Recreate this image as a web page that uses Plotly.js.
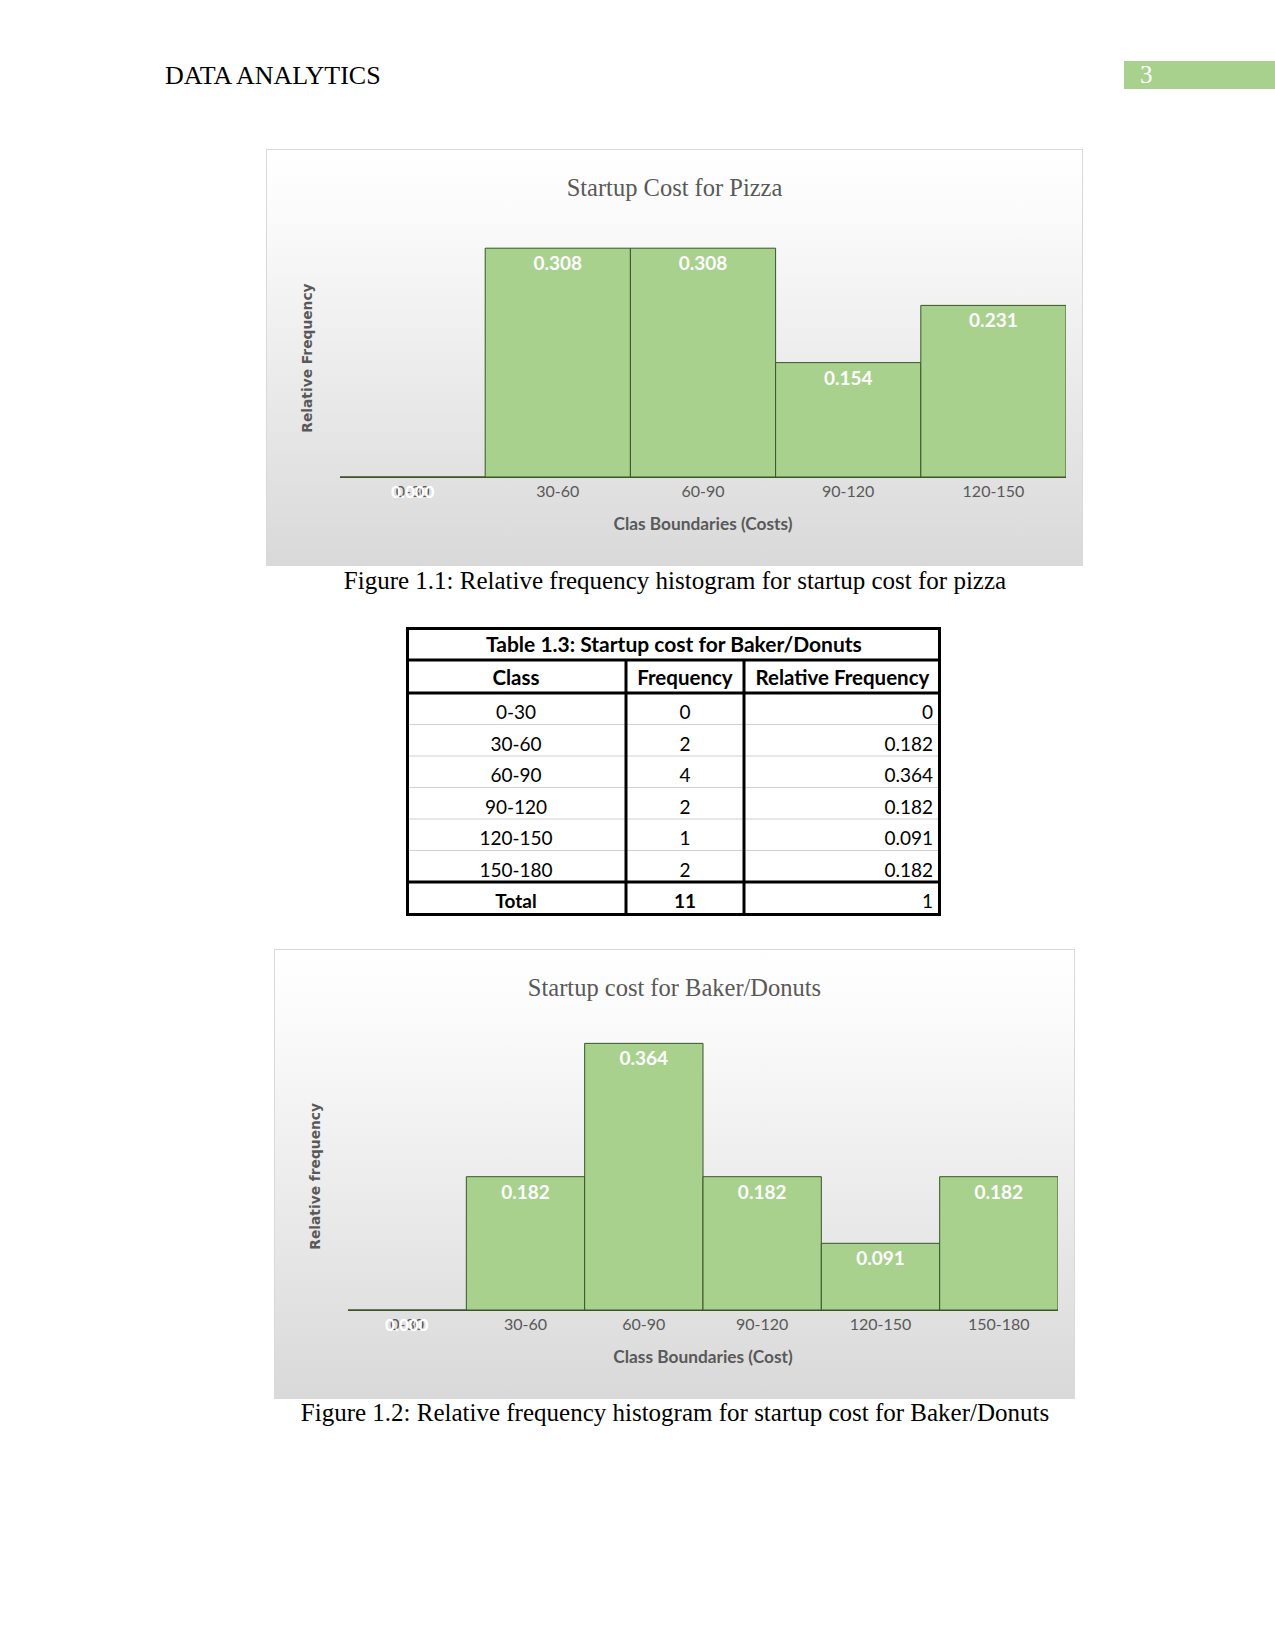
<!DOCTYPE html>
<html>
<head>
<meta charset="utf-8">
<script src="https://cdn.plot.ly/plotly-3.0.1.min.js"></script>
<style>
  html, body { margin: 0; padding: 0; background: #ffffff; }
  #page { position: relative; width: 1275px; height: 1651px; overflow: hidden; background: #fff; }
  .serif { font-family: "Liberation Serif", "DejaVu Serif", serif; position: absolute; white-space: nowrap; }
  #hdr { left: 165px; top: 61px; font-size: 26px; color: #000; }
  #pgbox { position: absolute; left: 1124px; top: 61px; width: 151px; height: 28px; background: #a9d18e; }
  #pgnum { position: absolute; left: 16px; top: 0px; font-family: "Liberation Serif", serif; font-size: 25px; color: #fff; line-height: 28px; }
  .chartbox { position: absolute; background: linear-gradient(to bottom, #ffffff 0%, #fbfbfb 15%, #d9d9d9 100%); outline: 1px solid #d9d9d9; }
  #c1 { left: 267px; top: 150px; width: 815px; height: 415px; }
  #c2 { left: 275px; top: 950px; width: 799px; height: 448px; }
  #tbl { position: absolute; left: 406px; top: 627px; width: 535px; height: 289px; }
  .cap { font-size: 25px; color: #000; width: 1100px; left: 125px; text-align: center; }
  #cap1 { top: 567px; }
  #cap2 { top: 1399px; }
</style>
</head>
<body>
<div id="page">
  <div id="hdr" class="serif">DATA ANALYTICS</div>
  <div id="pgbox"><div id="pgnum">3</div></div>
  <div id="c1" class="chartbox"></div>
  <div id="cap1" class="serif cap">Figure 1.1: Relative frequency histogram for startup cost for pizza</div>
  <div id="tbl"></div>
  <div id="c2" class="chartbox"></div>
  <div id="cap2" class="serif cap">Figure 1.2: Relative frequency histogram for startup cost for Baker/Donuts</div>
</div>
<script>
// ---- Data ----
const pizzaClasses = ['0-30', '30-60', '60-90', '90-120', '120-150'];
const pizzaRelFreq = [0, 0.308, 0.308, 0.154, 0.231];

const bakerClasses = ['0-30', '30-60', '60-90', '90-120', '120-150', '150-180'];
const bakerFreq = [0, 2, 4, 2, 1, 2];
const bakerRelFreq = [0, 0.182, 0.364, 0.182, 0.091, 0.182];
const bakerTotalFreq = 11;
const bakerTotalRel = 1;

const tableTitle = 'Table 1.3: Startup cost for Baker/Donuts';
const tableHeaders = ['Class', 'Frequency', 'Relative Frequency'];

// ---- Styles ----
const GREEN = '#a9d18e';
const OUTLINE = '#3b5528';
const GRAY = '#595959';
const SANS = 'Lato, "Open Sans", sans-serif';

function histogram(divId, classes, values, title, xTitle, yTitle, yMax, W, H) {
  const M = { l: 73, r: 16, t: 67, b: 88 };
  const anns = [];
  classes.forEach((c, i) => {
    if (values[i] === 0) {
      anns.push({
        x: c, y: 0, xref: 'x', yref: 'y', yanchor: 'middle', yshift: -14,
        text: '<b>' + values[i].toFixed(3) + '</b>', showarrow: false,
        font: { family: SANS, size: 17, color: '#ffffff' }
      });
    }
  });
  anns.push({
    xref: 'paper', yref: 'paper', x: 0, y: 0.455, xanchor: 'center', yanchor: 'middle',
    xshift: -(M.l - 40), textangle: -90, showarrow: false,
    text: '<b>' + yTitle + '</b>',
    font: { family: '"DejaVu Sans", Verdana, sans-serif', size: 13.8, color: GRAY }
  });
  const trace = {
    type: 'bar', x: classes, y: values,
    marker: { color: GREEN, line: { color: OUTLINE, width: 1 } },
    text: values.map(v => v.toFixed(3)),
    texttemplate: '<b>%{text}</b>',
    textposition: 'inside', insidetextanchor: 'end',
    textfont: { family: SANS, size: 19, color: '#ffffff' },
    constraintext: 'none',
    hoverinfo: 'skip'
  };
  const layout = {
    width: W, height: H,
    margin: M,
    paper_bgcolor: 'rgba(0,0,0,0)', plot_bgcolor: 'rgba(0,0,0,0)',
    showlegend: false, bargap: 0,
    title: { text: title, x: 0.5, xanchor: 'center', y: 1 - 37 / H, yanchor: 'middle',
             font: { family: '"Liberation Serif", serif', size: 24.5, color: GRAY } },
    xaxis: {
      type: 'category', showline: true, linecolor: OUTLINE, linewidth: 1,
      ticks: '', showgrid: false, zeroline: false,
      tickfont: { family: SANS, size: 16, color: GRAY },
      title: { text: '<b>' + xTitle + '</b>', standoff: 18, font: { family: SANS, size: 17.3, color: GRAY } }
    },
    yaxis: {
      range: [0, yMax], showticklabels: false, showgrid: false, zeroline: false, showline: false, ticks: ''
    },
    annotations: anns
  };
  Plotly.newPlot(divId, [trace], layout, { staticPlot: true, displayModeBar: false });
}

histogram('c1', pizzaClasses, pizzaRelFreq, 'Startup Cost for Pizza',
          'Clas Boundaries (Costs)', 'Relative Frequency', 0.35, 815, 415);
histogram('c2', bakerClasses, bakerRelFreq, 'Startup cost for Baker/Donuts',
          'Class Boundaries (Cost)', 'Relative frequency', 0.4, 799, 448);

// ---- Table ----
(function () {
  const W = 535, H = 289;
  const titleH = 33, headH = 33, rowH = 31.5;
  const textLift = 3;
  const nRows = bakerClasses.length + 1;
  const colW = [220, 118, 197];
  const bold = s => '<b>' + s + '</b>';
  const col1 = bakerClasses.concat(['Total']);
  const col2 = bakerFreq.map(String).concat([String(bakerTotalFreq)]);
  const col3 = bakerRelFreq.map(String).concat([String(bakerTotalRel)]);
  const w = n => Array(nRows).fill('normal').map((v, i) => (i === nRows - 1 && n < 2) ? 'bold' : 'normal');
  const weights = [w(0), w(1), w(2)];

  const trace = {
    type: 'table',
    domain: { x: [0, 1], y: [0, 1 - (titleH - textLift) / H] },
    columnwidth: colW,
    header: {
      values: tableHeaders.map(bold),
      height: headH, align: 'center',
      fill: { color: 'rgba(0,0,0,0)' }, line: { width: 0, color: 'rgba(0,0,0,0)' },
      font: { family: SANS, size: 20.5, color: '#000' }
    },
    cells: {
      values: [col1, col2, col3],
      height: rowH, align: ['center', 'center', 'right'],
      fill: { color: 'rgba(0,0,0,0)' }, line: { width: 0, color: 'rgba(0,0,0,0)' },
      font: { family: SANS, size: 19, color: '#000', weight: weights }
    }
  };
  const px = v => v / W, py = v => 1 - v / H;
  const shapes = [];
  const L = (x0, y0, x1, y1, wd, c) => shapes.push({ type: 'line', xref: 'paper', yref: 'paper',
    x0: px(x0), y0: py(y0), x1: px(x1), y1: py(y1), line: { color: c, width: wd } });
  for (let i = 1; i < nRows - 1; i++) {
    const y = titleH + headH + i * rowH;
    L(0, y, W, y, 1, '#d0d0d0');
  }
  const B = '#000', TW = 3;
  L(1.5, 1.5, W - 1.5, 1.5, TW, B);
  L(1.5, H - 1.5, W - 1.5, H - 1.5, TW, B);
  L(1.5, 0, 1.5, H, TW, B);
  L(W - 1.5, 0, W - 1.5, H, TW, B);
  L(0, titleH, W, titleH, TW, B);
  L(0, titleH + headH, W, titleH + headH, TW, B);
  const yTot = titleH + headH + (nRows - 1) * rowH;
  L(0, yTot, W, yTot, TW, B);
  let xc = 0;
  for (let i = 0; i < colW.length - 1; i++) {
    xc += colW[i];
    L(xc, titleH, xc, H, TW, B);
  }
  const layout = {
    width: W, height: H, margin: { l: 0, r: 0, t: 0, b: 0 },
    paper_bgcolor: 'rgba(0,0,0,0)',
    shapes: shapes,
    annotations: [{
      xref: 'paper', yref: 'paper', x: 0.5, y: py(titleH / 2), xanchor: 'center', yanchor: 'middle',
      text: bold(tableTitle), showarrow: false, font: { family: SANS, size: 21, color: '#000' }
    }]
  };
  Plotly.newPlot('tbl', [trace], layout, { staticPlot: true, displayModeBar: false });
})();
</script>
</body>
</html>
